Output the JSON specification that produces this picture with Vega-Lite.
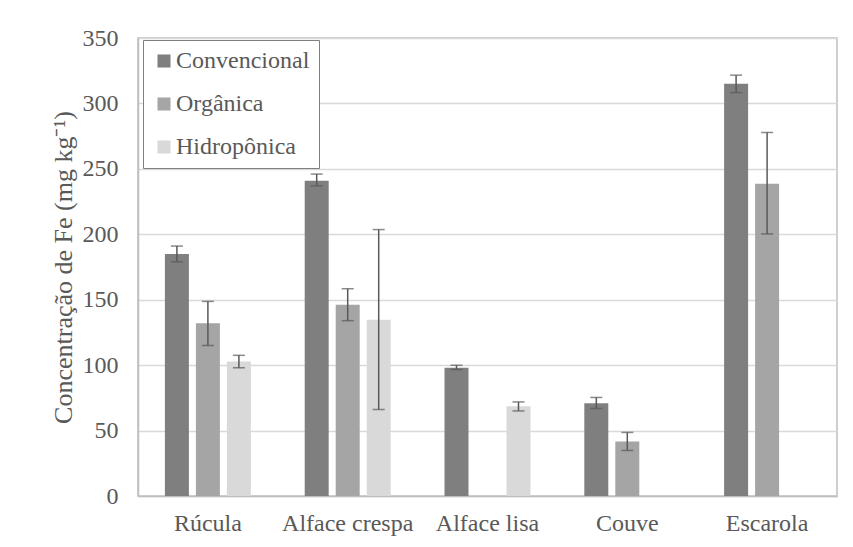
{
  "$schema": "https://vega.github.io/schema/vega-lite/v6.json",
  "width": 699,
  "height": 458,
  "autosize": {"type": "none"},
  "padding": {"left": 138, "top": 38, "right": 16, "bottom": 51},
  "background": "white",
  "config": {
    "font": "Liberation Serif",
    "view": {"stroke": "#bfbfbf", "strokeWidth": 1.5},
    "axis": {"labelFont": "Liberation Serif", "titleFont": "Liberation Serif"},
    "legend": {"labelFont": "Liberation Serif", "titleFont": "Liberation Serif"}
  },
  "data": {
    "values": [
      {"cultivo": "Rúcula", "sistema": "Convencional", "valor": 185, "lo": 179, "hi": 191},
      {"cultivo": "Rúcula", "sistema": "Orgânica", "valor": 132, "lo": 115, "hi": 148.7},
      {"cultivo": "Rúcula", "sistema": "Hidropônica", "valor": 102.7, "lo": 98, "hi": 107.5},
      {"cultivo": "Alface crespa", "sistema": "Convencional", "valor": 241, "lo": 237, "hi": 246},
      {"cultivo": "Alface crespa", "sistema": "Orgânica", "valor": 146.2, "lo": 134, "hi": 158.4},
      {"cultivo": "Alface crespa", "sistema": "Hidropônica", "valor": 134.7, "lo": 66.1, "hi": 203.6},
      {"cultivo": "Alface lisa", "sistema": "Convencional", "valor": 98.1, "lo": 96.6, "hi": 99.9},
      {"cultivo": "Alface lisa", "sistema": "Orgânica", "valor": 0, "lo": null, "hi": null},
      {"cultivo": "Alface lisa", "sistema": "Hidropônica", "valor": 68.6, "lo": 65, "hi": 71.9},
      {"cultivo": "Couve", "sistema": "Convencional", "valor": 70.9, "lo": 66.9, "hi": 75.3},
      {"cultivo": "Couve", "sistema": "Orgânica", "valor": 41.7, "lo": 34.8, "hi": 48.6},
      {"cultivo": "Couve", "sistema": "Hidropônica", "valor": 0, "lo": null, "hi": null},
      {"cultivo": "Escarola", "sistema": "Convencional", "valor": 315, "lo": 308.3, "hi": 321.6},
      {"cultivo": "Escarola", "sistema": "Orgânica", "valor": 238.7, "lo": 200.3, "hi": 277.8},
      {"cultivo": "Escarola", "sistema": "Hidropônica", "valor": 0, "lo": null, "hi": null}
    ]
  },
  "encoding": {
    "x": {
      "field": "cultivo",
      "type": "nominal",
      "sort": ["Rúcula", "Alface crespa", "Alface lisa", "Couve", "Escarola"],
      "scale": {"paddingInner": 0, "paddingOuter": 0},
      "axis": {
        "title": null,
        "labelAngle": 0,
        "labelFont": "Liberation Serif",
        "labelFontSize": 24,
        "labelColor": "#595959",
        "labelPadding": 15,
        "ticks": false,
        "domainColor": "#bfbfbf",
        "domainWidth": 1.5
      }
    },
    "xOffset": {
      "field": "sistema",
      "type": "nominal",
      "sort": ["Convencional", "Orgânica", "Hidropônica"],
      "scale": {"paddingInner": 0.226, "paddingOuter": 0.868}
    }
  },
  "layer": [
    {
      "mark": {"type": "bar"},
      "encoding": {
        "y": {
          "field": "valor",
          "type": "quantitative",
          "scale": {"domain": [0, 350], "nice": false},
          "axis": {
            "values": [0, 50, 100, 150, 200, 250, 300, 350],
            "title": "Concentração de Fe (mg kg⁻¹)",
            "titleFont": "Liberation Serif",
            "titleFontSize": 26,
            "titleFontWeight": "normal",
            "titleColor": "#595959",
            "titlePadding": 6,
            "labelFont": "Liberation Serif",
            "labelFontSize": 24,
            "labelColor": "#595959",
            "labelPadding": 20,
            "ticks": false,
            "grid": true,
            "gridColor": "#d9d9d9",
            "gridWidth": 1.5,
            "domainColor": "#bfbfbf",
            "domainWidth": 1.5
          }
        },
        "color": {
          "field": "sistema",
          "type": "nominal",
          "sort": ["Convencional", "Orgânica", "Hidropônica"],
          "scale": {
            "domain": ["Convencional", "Orgânica", "Hidropônica"],
            "range": ["#7f7f7f", "#a5a5a5", "#d9d9d9"]
          },
          "legend": {
            "title": null,
            "orient": "none",
            "legendX": 5,
            "legendY": 2,
            "strokeColor": "#7f7f7f",
            "fillColor": "white",
            "padding": 9,
            "labelFont": "Liberation Serif",
            "labelFontSize": 24,
            "labelColor": "#595959",
            "labelOffset": 0,
            "symbolType": "square",
            "symbolSize": 170,
            "symbolStrokeWidth": 0,
            "rowPadding": 19
          }
        }
      }
    },
    {
      "mark": {"type": "rule", "color": "#595959", "strokeWidth": 1.5},
      "encoding": {
        "y": {"field": "lo", "type": "quantitative"},
        "y2": {"field": "hi"}
      }
    },
    {
      "mark": {"type": "tick", "orient": "horizontal", "color": "#595959", "thickness": 1.5, "size": 12},
      "encoding": {
        "y": {"field": "lo", "type": "quantitative"}
      }
    },
    {
      "mark": {"type": "tick", "orient": "horizontal", "color": "#595959", "thickness": 1.5, "size": 12},
      "encoding": {
        "y": {"field": "hi", "type": "quantitative"}
      }
    }
  ]
}
